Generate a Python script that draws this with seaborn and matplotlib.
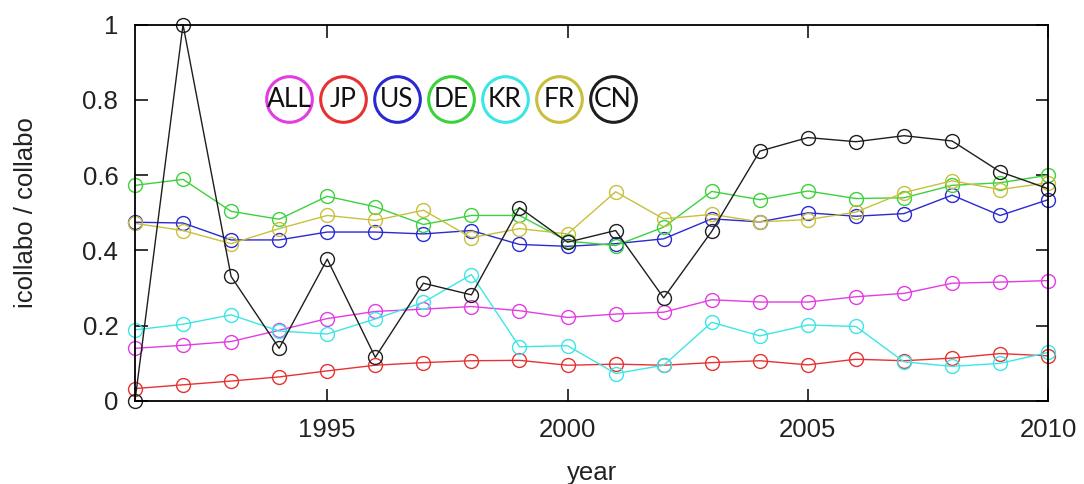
import matplotlib
matplotlib.use("Agg")
import matplotlib.pyplot as plt
import seaborn as sns
import pandas as pd

years = list(range(1991, 2011))
countries = ["ALL", "JP", "US", "DE", "KR", "FR", "CN"]
colors = ["#e43ce4", "#e83232", "#2a2ad2", "#3cd23c", "#3ce6e6", "#c8c03c", "#1e1e1e"]

all_vals = [0.140, 0.148, 0.158, 0.188, 0.219, 0.238, 0.244, 0.251, 0.240, 0.222,
            0.231, 0.236, 0.269, 0.263, 0.263, 0.277, 0.286, 0.313, 0.316, 0.320]
jp_vals = [0.033, 0.043, 0.053, 0.064, 0.080, 0.095, 0.102, 0.107, 0.108, 0.095,
           0.098, 0.095, 0.102, 0.107, 0.096, 0.111, 0.107, 0.114, 0.126, 0.120]
us_vals = [0.475, 0.473, 0.428, 0.428, 0.449, 0.449, 0.444, 0.453, 0.416, 0.411,
           0.418, 0.431, 0.484, 0.476, 0.500, 0.491, 0.498, 0.547, 0.493, 0.535]
de_vals = [0.573, 0.589, 0.504, 0.483, 0.544, 0.516, 0.469, 0.493, 0.493, 0.425,
           0.413, 0.462, 0.557, 0.535, 0.558, 0.538, 0.540, 0.573, 0.580, 0.600]
kr_vals = [0.189, 0.204, 0.229, 0.186, 0.178, 0.218, 0.262, 0.336, 0.144, 0.147,
           0.073, 0.095, 0.209, 0.173, 0.202, 0.198, 0.104, 0.092, 0.100, 0.129]
fr_vals = [0.472, 0.453, 0.418, 0.458, 0.493, 0.480, 0.507, 0.434, 0.458, 0.444,
           0.556, 0.484, 0.496, 0.476, 0.482, 0.502, 0.554, 0.585, 0.562, 0.580]
cn_vals = [0.000, 1.000, 0.331, 0.140, 0.377, 0.116, 0.313, 0.282, 0.514, 0.422,
           0.453, 0.274, 0.451, 0.664, 0.700, 0.689, 0.705, 0.691, 0.609, 0.564]

series = [all_vals, jp_vals, us_vals, de_vals, kr_vals, fr_vals, cn_vals]
df = pd.concat([pd.DataFrame({"year": years, "ratio": v, "country": c})
                for c, v in zip(countries, series)], ignore_index=True)

sns.set_style("ticks")
plt.rcParams["font.family"] = ["Liberation Sans", "DejaVu Sans"]
plt.rcParams["xtick.direction"] = "in"
plt.rcParams["ytick.direction"] = "in"

fig = plt.figure(figsize=(10.84, 4.84), dpi=100)
ax = fig.add_axes([0.1245, 0.1715, 0.8425, 0.7775])

sns.lineplot(data=df, x="year", y="ratio", hue="country", hue_order=countries,
             palette=colors, marker="o", linewidth=1.0, legend=False, ax=ax)
for line, c in zip(ax.lines, colors):
    line.set_markerfacecolor("none")
    line.set_markeredgecolor(c)
    line.set_markeredgewidth(1.0)
    line.set_markersize(10)
    line.set_clip_on(False)

ax.set_xlim(1991, 2010)
ax.set_ylim(0, 1)
ax.set_xticks([1995, 2000, 2005, 2010])
ax.set_yticks([0, 0.2, 0.4, 0.6, 0.8, 1])
ax.set_yticklabels(["0", "0.2", "0.4", "0.6", "0.8", "1"])
ax.tick_params(axis="both", which="major", labelsize=18.5, length=9, width=1.1,
               top=True, right=True, color="black", labelcolor="#222222")
ax.tick_params(axis="x", pad=12)
ax.tick_params(axis="y", pad=12)
for s in ax.spines.values():
    s.set_visible(True)
    s.set_linewidth(1.3)
    s.set_color("black")

ax.set_xlabel("year", fontsize=18.5, color="#222222", labelpad=14)
ax.set_ylabel("icollabo / collabo", fontsize=18.5, color="#222222", labelpad=32)

# legend: coloured rings with country codes
for i, (c, col) in enumerate(zip(countries, colors)):
    xp = 0.1687 + i * 0.0591
    ax.scatter([xp], [0.803], s=1080, facecolors="white", edgecolors=col,
               linewidths=2.2, transform=ax.transAxes, zorder=5, clip_on=False)
    ax.text(xp, 0.800, c, transform=ax.transAxes, ha="center", va="center",
            fontsize=19, family=["Lato", "DejaVu Sans"], color="#111111", zorder=6)

fig.savefig("out.png", dpi=100)
